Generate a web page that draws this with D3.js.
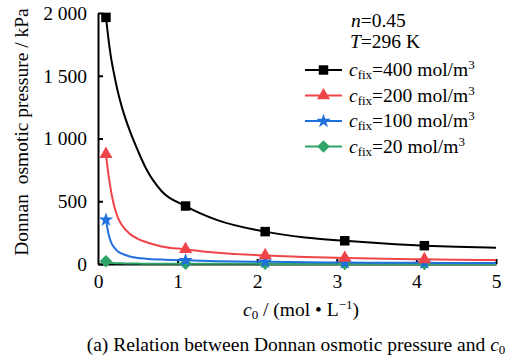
<!DOCTYPE html>
<html><head><meta charset="utf-8">
<script src="https://cdn.jsdelivr.net/npm/d3@7/dist/d3.min.js"></script>
<style>
html,body{margin:0;padding:0;background:#fff;}
svg{display:block;}
svg text{font-family:"Liberation Serif","Times New Roman",serif;fill:#000;}
</style></head>
<body>
<script>
// ---- data ----
const c0 = [0.1, 0.13, 0.17, 0.2, 0.25, 0.3, 0.4, 0.5, 0.6, 0.8, 1.1, 1.5, 2.1, 2.6, 3.1, 3.6, 4.1, 4.5, 5.0];
const markerC0 = [0.1, 1.1, 2.1, 3.1, 4.1];
const p400 = [1965, 1800, 1620, 1520, 1370, 1250, 1060, 905, 765, 580, 462, 350, 258, 212, 185, 163, 146, 137, 130];
const p200 = [875, 720, 560, 470, 370, 310, 240, 200, 175, 140, 117, 90, 68, 56, 48, 42, 37, 34, 31];
const p100 = [351, 245, 165, 135, 100, 82, 60, 48, 42, 35, 29, 22, 17, 14, 12, 10, 9, 8.5, 8];
const p20  = [22, 15, 10, 8, 6, 5, 4, 3, 2.5, 2, 1.5, 1.2, 1, 0.8, 0.7, 0.6, 0.5, 0.4, 0.3];
const seriesNames = ["400", "200", "100", "20"];
const seriesColors = ["#000000", "#ef4449", "#1f6fde", "#2ea566"];
const seriesSymbols = ["square", "triangle", "star", "diamond"];
const xTicks = [0, 1, 2, 3, 4, 5];
const yTicks = [0, 500, 1000, 1500, 2000];
const yTickLabels = ["0", "500", "1 000", "1 500", "2 000"];

const series = [p400, p200, p100, p20].map((v, i) => ({
  name: seriesNames[i], color: seriesColors[i], symbol: seriesSymbols[i],
  pts: c0.map((x, j) => ({x, y: v[j]}))
}));

const W = 516, H = 362;
const m = {l: 98, r: 20, t: 13, b: 98};
const x = d3.scaleLinear().domain([0, 5]).range([m.l, W - m.r]);
const y = d3.scaleLinear().domain([0, 2000]).range([H - m.b, m.t]);
const FONT = "'Liberation Serif','Times New Roman',serif";
const fs = 19.5, fsSub = 13;

const svg = d3.select("body").append("svg").attr("width", W).attr("height", H)
  .attr("font-family", FONT);

// axes
const xAxis = d3.axisBottom(x).tickValues(xTicks).tickSizeInner(-5).tickSizeOuter(0).tickPadding(10).tickFormat(d3.format("d"));
const gx = svg.append("g").attr("transform", `translate(0,${y(0)})`).call(xAxis);
const yAxis = d3.axisLeft(y).tickValues(yTicks).tickSizeInner(-5).tickSizeOuter(0).tickPadding(11).tickFormat((d, i) => yTickLabels[i]);
const gy = svg.append("g").attr("transform", `translate(${x(0)},0)`).call(yAxis);
[gx, gy].forEach(g => {
  g.attr("font-family", FONT).attr("font-size", fs);
  g.select(".domain").attr("stroke", "#000").attr("stroke-width", 2);
  g.selectAll(".tick line").attr("stroke", "#000").attr("stroke-width", 2);
  g.selectAll(".tick text").attr("fill", "#000").attr("font-size", fs).attr("font-family", FONT);
});
gx.selectAll(".tick").filter(d => d === 0).select("line").remove();

// curves
const line = d3.line().x(d => x(d.x)).y(d => y(d.y)).curve(d3.curveMonotoneX);
const symType = {square: d3.symbolSquare, triangle: d3.symbolTriangle, star: d3.symbolStar, diamond: d3.symbolSquare};
const symSize = {square: 90, triangle: 75, star: 65, diamond: 78};
const symRot = {square: 0, triangle: 0, star: 0, diamond: 45};
series.slice().reverse().forEach(s => {
  svg.append("path").datum(s.pts).attr("d", line).attr("fill", "none")
    .attr("stroke", s.color).attr("stroke-width", 2);
});
series.slice().reverse().forEach(s => {
  const mk = s.pts.filter(p => markerC0.includes(p.x));
  svg.append("g").selectAll("path").data(mk).join("path")
    .attr("transform", d => `translate(${x(d.x)},${y(d.y)}) rotate(${symRot[s.symbol]})`)
    .attr("d", d3.symbol().type(symType[s.symbol]).size(symSize[s.symbol]))
    .attr("fill", s.color);
});

// legend
const leg = svg.append("g").attr("font-family", FONT);
leg.append("text").attr("x", 351).attr("y", 27).attr("font-size", fs)
  .call(t => { t.append("tspan").attr("font-style", "italic").text("n"); t.append("tspan").text("=0.45"); });
leg.append("text").attr("x", 350).attr("y", 48).attr("font-size", fs)
  .call(t => { t.append("tspan").attr("font-style", "italic").text("T"); t.append("tspan").text("=296 K"); });
series.forEach((s, i) => {
  const ly = 70 + i * 25.5;
  leg.append("line").attr("x1", 305).attr("x2", 342).attr("y1", ly).attr("y2", ly)
    .attr("stroke", s.color).attr("stroke-width", 2);
  leg.append("path").attr("transform", `translate(323.5,${ly}) rotate(${symRot[s.symbol]})`)
    .attr("d", d3.symbol().type(symType[s.symbol]).size(symSize[s.symbol])).attr("fill", s.color);
  const t = leg.append("text").attr("x", 349).attr("y", ly + 6).attr("font-size", fs);
  t.append("tspan").attr("font-style", "italic").text("c");
  t.append("tspan").attr("font-size", fsSub).attr("dy", 3).text("fix");
  t.append("tspan").attr("dy", -3).text(`=${s.name} mol/m`);
  t.append("tspan").attr("font-size", fsSub).attr("dy", -7).text("3");
});

// axis titles
const xt = svg.append("text").attr("x", 301).attr("y", 316).attr("text-anchor", "middle").attr("font-size", fs);
xt.append("tspan").attr("font-style", "italic").text("c");
xt.append("tspan").attr("font-size", fsSub).attr("dy", 3).text("0");
xt.append("tspan").attr("dy", -3).text(" / (mol \u2022 L");
xt.append("tspan").attr("font-size", fsSub).attr("dy", -7).text("\u22121");
xt.append("tspan").attr("dy", 7).text(")");

svg.append("text").attr("transform", `translate(28,132) rotate(-90)`)
  .attr("text-anchor", "middle").attr("font-size", fs)
  .style("white-space", "pre").text("Donnan  osmotic pressure / kPa");

const cap = svg.append("text").attr("x", 296).attr("y", 351).attr("text-anchor", "middle").attr("font-size", fs);
cap.append("tspan").text("(a) Relation between Donnan osmotic pressure and ");
cap.append("tspan").attr("font-style", "italic").text("c");
cap.append("tspan").attr("font-size", fsSub).attr("dy", 3).text("0");
</script>
</body></html>
